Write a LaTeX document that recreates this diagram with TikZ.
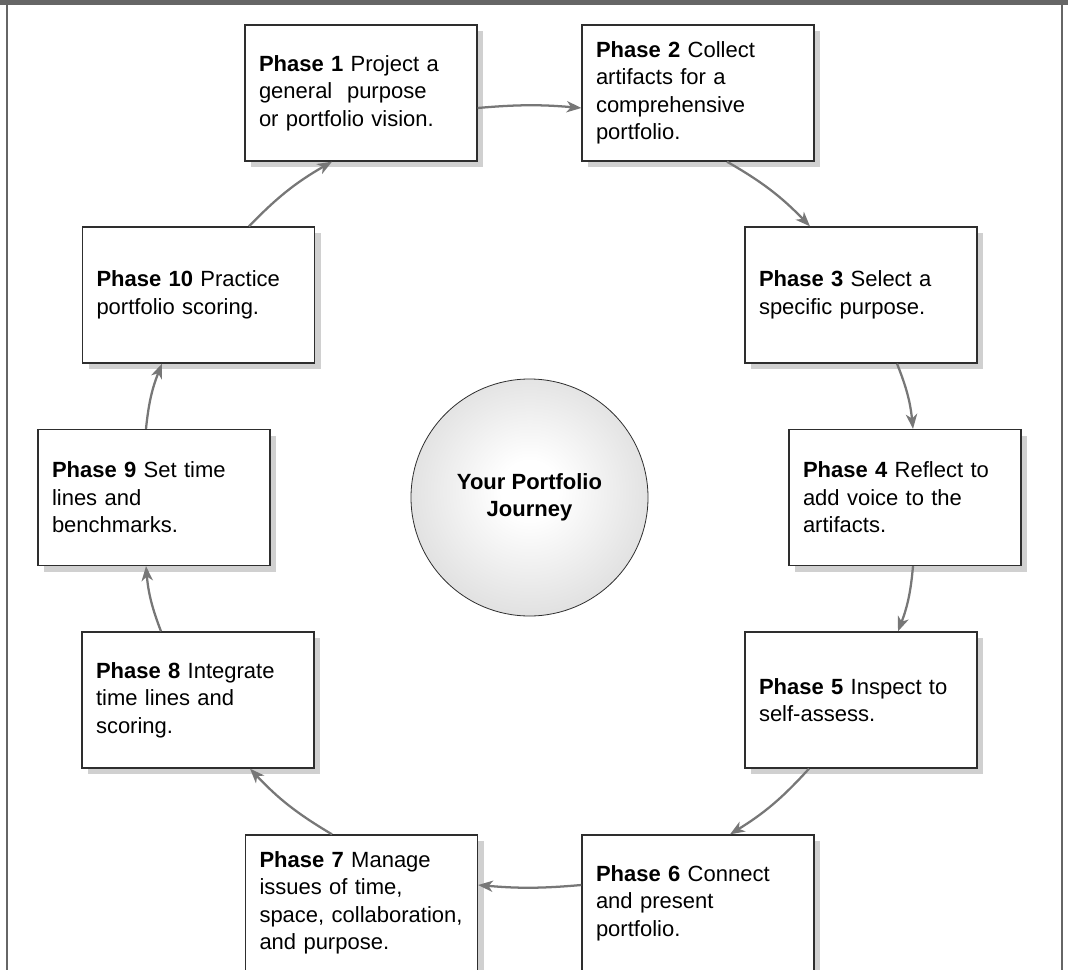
\documentclass[tikz,border=0pt]{standalone}
\usepackage{fontspec}
\setmainfont{Liberation Sans}
\usetikzlibrary{arrows.meta, shadows, calc}
\usepackage{xcolor}
\definecolor{frameGray}{HTML}{666666}
\definecolor{arrowGray}{HTML}{777777}
\definecolor{shadowGray}{HTML}{D0D0D0}
\definecolor{boxLine}{HTML}{2E2E2E}
\pgfdeclareradialshading{journeyShade}{\pgfpoint{0bp}{2bp}}{color(0bp)=(white); color(6bp)=(white); color(50bp)=(gray!52)}

\begin{document}
\begin{tikzpicture}[
    x=0.75pt, y=-0.75pt,
    font=\fontsize{16.5pt}{20.6pt}\selectfont,
    >={Stealth[length=11pt, width=8.5pt, inset=3.2pt]},
    phase/.style={rectangle, draw=boxLine, line width=1pt, fill=white, minimum width=174pt, minimum height=102pt, text width=153pt, inner xsep=10.5pt, inner ysep=0pt, align=left, drop shadow={shadow xshift=4.5pt, shadow yshift=-4.5pt, fill=shadowGray, opacity=1}},
    flow/.style={->, draw=arrowGray, line width=1.7pt, bend left=8}
]
    \useasboundingbox (0,0) rectangle (1068,970);
    \clip (0,0) rectangle (1068,970);

    % frame
    \fill[frameGray] (0,0) rectangle (1068,5.5);
    \draw[frameGray, line width=1pt] (7,5) -- (7,970);
    \draw[frameGray, line width=1pt] (1062,5) -- (1062,970);

    % centre
    \node[circle, draw=boxLine, line width=0.6pt, shading=journeyShade, minimum size=177.75pt, inner sep=0pt, align=center, font=\fontsize{16.5pt}{20.3pt}\selectfont\bfseries] (journey) at (529.5,497.5) {Your Portfolio\\Journey};

    % phases
    \node[phase] (P1) at (361,93) {\textbf{Phase 1} Project a\\general\ \ purpose\\or portfolio vision.};
    \node[phase] (P2) at (698,93) {\textbf{Phase 2} Collect\\artifacts for a\\comprehensive\\portfolio.};
    \node[phase] (P3) at (861,295) {\textbf{Phase 3} Select a\\specific purpose.};
    \node[phase] (P4) at (905,497.5) {\textbf{Phase 4} Reflect to\\add voice to the\\artifacts.};
    \node[phase] (P5) at (861,700) {\textbf{Phase 5} Inspect to\\self-assess.};
    \node[phase] (P6) at (698,903) {\textbf{Phase 6} Connect\\and present\\portfolio.};
    \node[phase] (P7) at (361.5,903) {\textbf{Phase 7} Manage\\issues of time,\\space, collaboration,\\and purpose.};
    \node[phase] (P8) at (198,700) {\textbf{Phase 8} Integrate\\time lines and\\scoring.};
    \node[phase] (P9) at (154,497.5) {\textbf{Phase 9} Set time\\lines and\\benchmarks.};
    \node[phase] (P10) at (198.5,295) {\textbf{Phase 10} Practice\\portfolio scoring.};

    % the cycle
    \draw[flow, bend left=5] ($(P1.east)+(0,15)$) to ($(P2.west)+(0,15)$);
    \draw[flow] ($(P2.south)+(29,0)$) to ($(P3.north)+(-51,0)$);
    \draw[flow] ($(P3.south)+(36,0)$) to ($(P4.north)+(8,0)$);
    \draw[flow] ($(P4.south)+(8,0)$) to ($(P5.north)+(37,0)$);
    \draw[flow] ($(P5.south)+(-52,0)$) to ($(P6.north)+(32,0)$);
    \draw[flow, bend left=5] ($(P6.west)+(0,-18)$) to ($(P7.east)+(0,-18)$);
    \draw[flow] ($(P7.north)+(-29.5,0)$) to ($(P8.south)+(52,0)$);
    \draw[flow] ($(P8.north)+(-37,0)$) to ($(P9.south)+(-8,0)$);
    \draw[flow] ($(P9.north)+(-8,0)$) to ($(P10.south)+(-36.5,0)$);
    \draw[flow] ($(P10.north)+(50.5,0)$) to ($(P1.south)+(-29,0)$);
\end{tikzpicture}
\end{document}
